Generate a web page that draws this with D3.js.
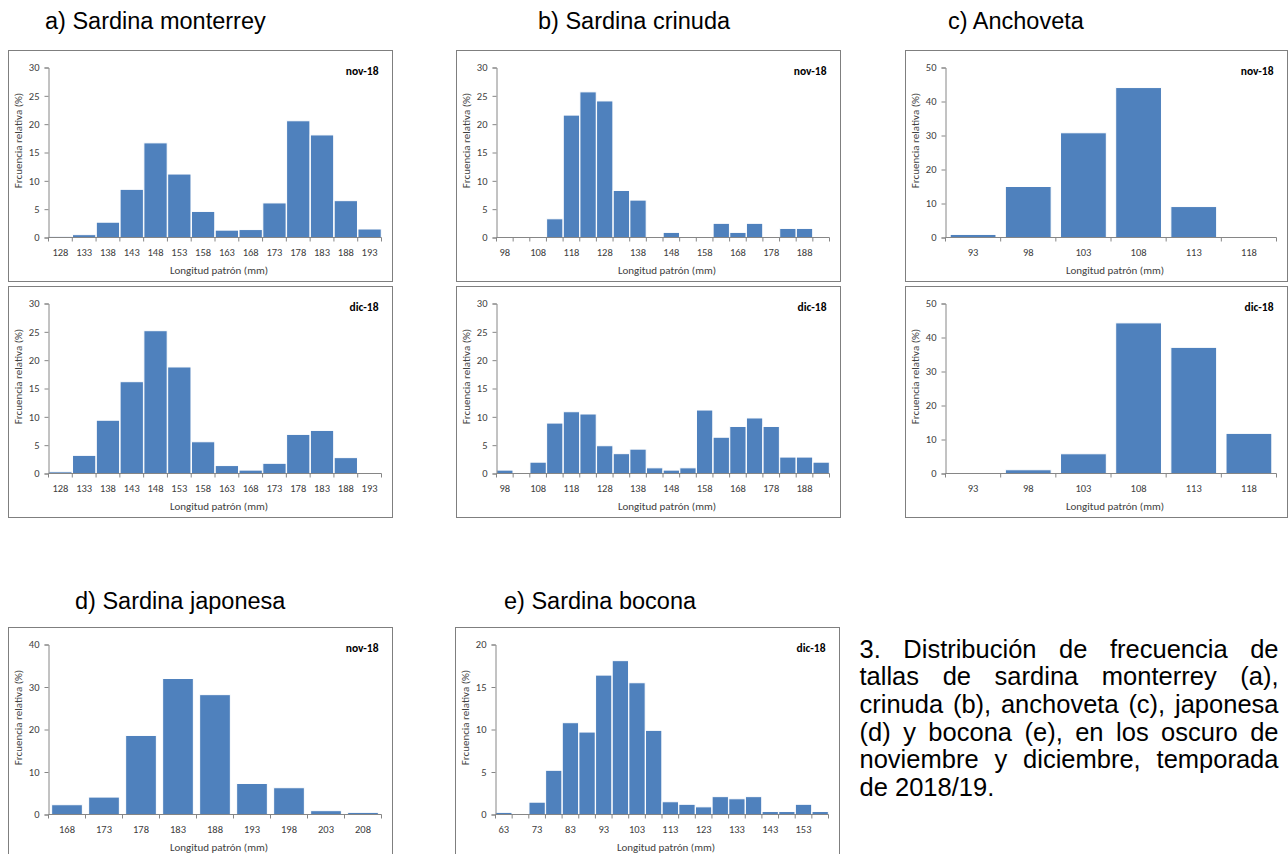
<!DOCTYPE html>
<html>
<head>
<meta charset="utf-8">
<script src="https://cdn.jsdelivr.net/npm/d3@7"></script>
<style>
  body { margin: 0; background: #fff; }
  svg { display: block; }
</style>
</head>
<body>
<svg id="fig" width="1288" height="854"></svg>
<script>
// --- datos (frecuencia relativa %) ---
const tallasMonterrey = [128, 133, 138, 143, 148, 153, 158, 163, 168, 173, 178, 183, 188, 193];
const monterreyNov = [0.2, 0.5, 2.7, 8.5, 16.7, 11.2, 4.6, 1.3, 1.4, 6.1, 20.6, 18.1, 6.5, 1.5];
const monterreyDic = [0.3, 3.2, 9.4, 16.2, 25.2, 18.8, 5.6, 1.4, 0.6, 1.8, 6.9, 7.6, 2.8, 0];

const tallasCrinuda = [98, 103, 108, 113, 118, 123, 128, 133, 138, 143, 148, 153, 158, 163, 168, 173, 178, 183, 188, 193];
const crinudaNov = [0, 0, 0, 3.3, 21.6, 25.7, 24.1, 8.3, 6.6, 0, 0.9, 0, 0, 2.5, 0.9, 2.5, 0, 1.6, 1.6, 0];
const crinudaDic = [0.6, 0, 2.0, 8.9, 10.9, 10.5, 4.9, 3.5, 4.3, 1.0, 0.6, 1.0, 11.2, 6.4, 8.3, 9.8, 8.3, 2.9, 2.9, 2.0];

const tallasAnchoveta = [93, 98, 103, 108, 113, 118];
const anchovetaNov = [0.9, 15.0, 30.8, 44.1, 9.1, 0];
const anchovetaDic = [0, 1.1, 5.8, 44.3, 37.1, 11.8];

const tallasJaponesa = [168, 173, 178, 183, 188, 193, 198, 203, 208];
const japonesaNov = [2.3, 4.1, 18.6, 32.0, 28.2, 7.3, 6.3, 0.9, 0.5];

const tallasBocona = [63, 68, 73, 78, 83, 88, 93, 98, 103, 108, 113, 118, 123, 128, 133, 138, 143, 148, 153, 158];
const boconaDic = [0.25, 0, 1.45, 5.2, 10.8, 9.7, 16.4, 18.1, 15.5, 9.9, 1.5, 1.2, 0.9, 2.1, 1.85, 2.1, 0.35, 0.35, 1.2, 0.35];

const titulos = [
  { text: "a) Sardina monterrey", x: 45, y: 29 },
  { text: "b) Sardina crinuda", x: 538, y: 29 },
  { text: "c) Anchoveta", x: 948, y: 29 },
  { text: "d) Sardina japonesa", x: 75, y: 609 },
  { text: "e) Sardina bocona", x: 504, y: 609 },
];

const leyenda = [
  "3. Distribución de frecuencia de",
  "tallas de sardina monterrey (a),",
  "crinuda (b), anchoveta (c), japonesa",
  "(d) y bocona (e), en los oscuro de",
  "noviembre y diciembre, temporada",
  "de 2018/19.",
];

// --- paneles ---
const panels = [
  { cats: tallasMonterrey, values: monterreyNov, mes: "nov-18", yMax: 30, yStep: 5, pad: 0.02, every: 1, frame: [8.5, 50.5, 384, 231] },
  { cats: tallasCrinuda, values: crinudaNov, mes: "nov-18", yMax: 30, yStep: 5, pad: 0.02, every: 2, frame: [456.5, 50.5, 384, 231] },
  { cats: tallasAnchoveta, values: anchovetaNov, mes: "nov-18", yMax: 50, yStep: 10, pad: 0.17, every: 1, frame: [905.5, 50.5, 382, 231] },
  { cats: tallasMonterrey, values: monterreyDic, mes: "dic-18", yMax: 30, yStep: 5, pad: 0.02, every: 1, frame: [8.5, 286.5, 384, 231] },
  { cats: tallasCrinuda, values: crinudaDic, mes: "dic-18", yMax: 30, yStep: 5, pad: 0.02, every: 2, frame: [456.5, 286.5, 384, 231] },
  { cats: tallasAnchoveta, values: anchovetaDic, mes: "dic-18", yMax: 50, yStep: 10, pad: 0.17, every: 1, frame: [905.5, 286.5, 382, 231] },
  { cats: tallasJaponesa, values: japonesaNov, mes: "nov-18", yMax: 40, yStep: 10, pad: 0.17, every: 1, frame: [8.5, 627.5, 384, 240] },
  { cats: tallasBocona, values: boconaDic, mes: "dic-18", yMax: 20, yStep: 5, pad: 0.02, every: 2, frame: [455.5, 627.5, 384, 240] },
];

const svg = d3.select("#fig");
const chartFont = "Carlito, Lato, 'Open Sans', sans-serif";
const axisColor = "#868686";
const barColor = "#4f81bd";

panels.forEach((p) => {
  const [fx, fy, fw, fh] = p.frame;
  const left = fx + 40, right = fx + fw - 11;
  const top = fy + 17, bottom = fy + 187;

  const g = svg.append("g");

  g.append("rect")
    .attr("x", fx).attr("y", fy)
    .attr("width", fw).attr("height", fh)
    .attr("fill", "#fff")
    .attr("stroke", "#7f7f7f")
    .attr("stroke-width", 1);

  const x = d3.scaleBand().domain(p.cats).range([left, right]).paddingInner(p.pad).paddingOuter(p.pad / 2);
  const y = d3.scaleLinear().domain([0, p.yMax]).range([bottom, top]);

  // barras
  g.selectAll("rect.bar")
    .data(p.cats.map((c, i) => ({ c, v: p.values[i] })).filter((d) => d.v > 0))
    .join("rect")
    .attr("class", "bar")
    .attr("x", (d) => x(d.c))
    .attr("width", x.bandwidth())
    .attr("y", (d) => y(d.v))
    .attr("height", (d) => bottom - y(d.v))
    .attr("fill", barColor)
    .attr("stroke", "#fff")
    .attr("stroke-width", 1);

  // eje y
  const yTicks = d3.range(0, p.yMax + 0.001, p.yStep);
  const yAxis = d3.axisLeft(y).tickValues(yTicks).tickSize(4).tickPadding(5).tickFormat(d3.format("d"));
  const ya = g.append("g").attr("transform", `translate(${left},0)`).call(yAxis);
  ya.select(".domain").attr("stroke", axisColor);
  ya.selectAll(".tick line").attr("stroke", axisColor);
  ya.selectAll(".tick text")
    .attr("font-family", chartFont).attr("font-size", 10.5).attr("fill", "#404040");

  // eje x: marcas entre categorías, etiquetas centradas
  g.append("line")
    .attr("x1", left).attr("x2", right)
    .attr("y1", bottom).attr("y2", bottom)
    .attr("stroke", axisColor);

  const step = (right - left) / p.cats.length;
  g.selectAll("line.xtick")
    .data(d3.range(p.cats.length + 1))
    .join("line")
    .attr("class", "xtick")
    .attr("x1", (i) => left + i * step).attr("x2", (i) => left + i * step)
    .attr("y1", bottom).attr("y2", bottom + 4)
    .attr("stroke", axisColor);

  g.selectAll("text.xlab")
    .data(p.cats.filter((_, i) => i % p.every === 0))
    .join("text")
    .attr("class", "xlab")
    .attr("x", (c) => x(c) + x.bandwidth() / 2)
    .attr("y", bottom + 18)
    .attr("text-anchor", "middle")
    .attr("font-family", chartFont).attr("font-size", 10.5).attr("fill", "#404040")
    .text((c) => c);

  g.append("text")
    .attr("x", (left + right) / 2 + 4)
    .attr("y", bottom + 36)
    .attr("text-anchor", "middle")
    .attr("font-family", chartFont).attr("font-size", 11).attr("fill", "#404040")
    .text("Longitud patrón (mm)");

  g.append("text")
    .attr("transform", `translate(${fx + 13.5},${(top + bottom) / 2 - 12}) rotate(-90)`)
    .attr("text-anchor", "middle")
    .attr("font-family", chartFont).attr("font-size", 11).attr("fill", "#404040")
    .text("Frcuencia relativa (%)");

  g.append("text")
    .attr("x", right - 3)
    .attr("y", top + 7)
    .attr("text-anchor", "end")
    .attr("font-family", chartFont).attr("font-size", 11.5).attr("font-weight", "bold")
    .attr("fill", "#000")
    .text(p.mes);
});

// títulos de especie
svg.selectAll("text.titulo")
  .data(titulos)
  .join("text")
  .attr("class", "titulo")
  .attr("x", (d) => d.x).attr("y", (d) => d.y)
  .attr("font-family", "'Liberation Sans', Arial, sans-serif")
  .attr("font-size", 23.5)
  .attr("fill", "#000")
  .text((d) => d.text);

// leyenda justificada
const capLeft = 859.5, capRight = 1278.5, capTop = 657.5, capLine = 27.7;
leyenda.forEach((line, li) => {
  const words = line.split(" ");
  const yy = capTop + li * capLine;
  const tg = svg.append("g");
  const nodes = words.map((w) =>
    tg.append("text")
      .attr("y", yy)
      .attr("font-family", "'Liberation Sans', Arial, sans-serif")
      .attr("font-size", 25.5)
      .attr("fill", "#000")
      .text(w)
  );
  const widths = nodes.map((n) => n.node().getComputedTextLength());
  const total = d3.sum(widths);
  const last = li === leyenda.length - 1;
  const gap = last || words.length < 2 ? 25.5 * 0.278 : (capRight - capLeft - total) / (words.length - 1);
  let cx = capLeft;
  nodes.forEach((n, i) => {
    n.attr("x", cx);
    cx += widths[i] + gap;
  });
});
</script>
</body>
</html>
